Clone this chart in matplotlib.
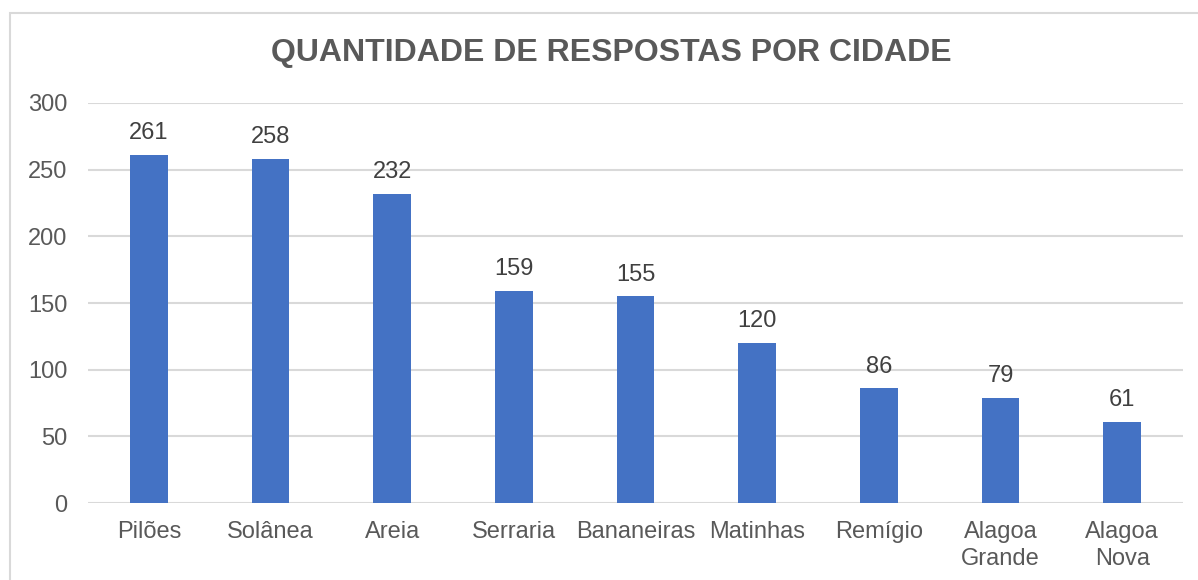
import matplotlib.pyplot as plt
from matplotlib.patches import Rectangle

plt.rcParams['font.family'] = ['Liberation Sans', 'DejaVu Sans']

cidades = ["Pilões", "Solânea", "Areia", "Serraria", "Bananeiras",
           "Matinhas", "Remígio", "Alagoa\nGrande", "Alagoa\nNova"]
respostas = [261, 258, 232, 159, 155, 120, 86, 79, 61]
yticks = [0, 50, 100, 150, 200, 250, 300]

fig = plt.figure(figsize=(11.98, 5.8), dpi=100)
# chart border (light gray, left/top only visible)
fig.patches.append(Rectangle((10 / 1198, -0.1), 1.2, 1 - 13 / 580 + 0.1,
                             transform=fig.transFigure, fill=False,
                             edgecolor="#d9d9d9", linewidth=1.5))

ax = fig.add_axes([88 / 1198, 1 - 503 / 580, (1183 - 88) / 1198, 400 / 580])
x = range(len(cidades))
bars = ax.bar(x, respostas, width=0.31, color="#4472C4", zorder=3)
for b, v in zip(bars, respostas):
    ax.text(b.get_x() + b.get_width() / 2, v + 8, str(v), ha="center",
            va="bottom", fontsize=17, color="#404040")

ax.set_xlim(-0.5, len(cidades) - 0.5)
ax.set_ylim(0, 300)
ax.set_yticks(yticks)
ax.set_xticks(list(x))
ax.set_xticklabels(cidades, linespacing=1.3)
ax.tick_params(axis="both", length=0, labelsize=17, labelcolor="#595959")
ax.tick_params(axis="y", pad=15)
ax.tick_params(axis="x", pad=13)
ax.grid(axis="y", color="#d9d9d9", linewidth=1.5, zorder=0)
for s in ax.spines.values():
    s.set_visible(False)

fig.text(611 / 1198, 1 - 53 / 580, "QUANTIDADE DE RESPOSTAS POR CIDADE",
         ha="center", va="center", fontsize=23, fontweight="bold",
         color="#595959")

fig.savefig("out.png", dpi=100)
